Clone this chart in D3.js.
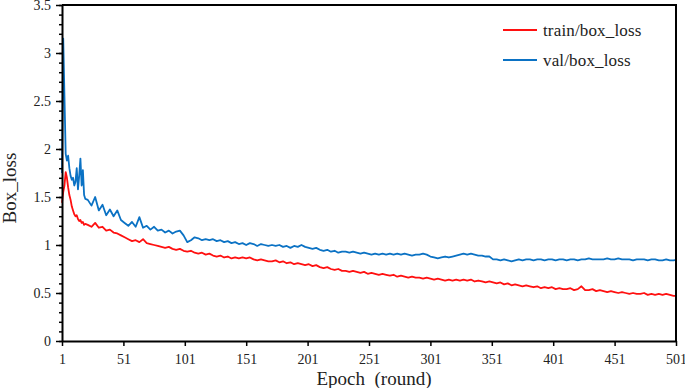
<!DOCTYPE html>
<html>
<head>
<meta charset="utf-8">
<script src="https://cdn.jsdelivr.net/npm/d3@7"></script>
<style>
    body { margin: 0; background: #fff; }
    svg text { font-family: "Liberation Serif", "Times New Roman", Times, "DejaVu Serif", serif; }
</style>
</head>
<body>
<script>
// epochs: every epoch at the start, then every third one
const epochs = d3.range(1, 21).concat(d3.range(22, 500, 3), [501]);

const trainLoss = [
    1.44, 1.55, 1.62, 1.76, 1.70, 1.60, 1.52, 1.47, 1.40, 1.36,
    1.32, 1.30, 1.31, 1.27, 1.25, 1.26, 1.23, 1.24, 1.21, 1.22,
    1.21, 1.19, 1.23, 1.18, 1.19, 1.15, 1.16, 1.13, 1.12, 1.10,
    1.08, 1.06, 1.04, 1.05, 1.03, 1.06, 1.02, 1.01, 1.00, 0.99,
    0.98, 0.97, 0.98, 0.96, 0.95, 0.96, 0.94, 0.93, 0.94, 0.92,
    0.91, 0.92, 0.90, 0.91, 0.89, 0.88, 0.89, 0.87, 0.88, 0.86,
    0.87, 0.86, 0.87, 0.86, 0.87, 0.85, 0.84, 0.85, 0.84, 0.83,
    0.83, 0.84, 0.82, 0.83, 0.81, 0.82, 0.80, 0.81, 0.80, 0.79,
    0.80, 0.78, 0.79, 0.77, 0.76, 0.77, 0.75, 0.74, 0.75, 0.73,
    0.73, 0.72, 0.73, 0.72, 0.71, 0.72, 0.70, 0.71, 0.70, 0.69,
    0.70, 0.69, 0.68, 0.69, 0.67, 0.68, 0.67, 0.66, 0.67, 0.66,
    0.66, 0.65, 0.66, 0.65, 0.64, 0.65, 0.64, 0.63, 0.64, 0.63,
    0.64, 0.63, 0.64, 0.63, 0.64, 0.62, 0.63, 0.62, 0.61, 0.62,
    0.61, 0.60, 0.61, 0.59, 0.60, 0.58, 0.59, 0.58, 0.57, 0.58,
    0.57, 0.56, 0.57, 0.55, 0.56, 0.55, 0.56, 0.54, 0.55, 0.54,
    0.54, 0.55, 0.53, 0.54, 0.57, 0.53, 0.53, 0.54, 0.52, 0.53,
    0.52, 0.51, 0.52, 0.51, 0.50, 0.51, 0.50, 0.49, 0.50, 0.49,
    0.49, 0.50, 0.48, 0.49, 0.48, 0.49, 0.48, 0.49, 0.48, 0.47,
    0.47
];

const valLoss = [
    1.75, 3.15, 2.55, 1.95, 1.88, 1.93, 1.80, 1.72, 1.68, 1.70,
    1.62, 1.66, 1.80, 1.58, 1.72, 1.90, 1.62, 1.78, 1.52, 1.48,
    1.47, 1.41, 1.50, 1.36, 1.42, 1.31, 1.37, 1.30, 1.36, 1.26,
    1.23, 1.20, 1.24, 1.19, 1.29, 1.18, 1.20, 1.16, 1.19, 1.15,
    1.16, 1.13, 1.15, 1.12, 1.14, 1.15, 1.10, 1.03, 1.05, 1.08,
    1.07, 1.05, 1.06, 1.05, 1.06, 1.04, 1.05, 1.03, 1.04, 1.02,
    1.03, 1.01, 1.02, 1.00, 1.02, 1.01, 0.99, 1.01, 1.00, 0.99,
    1.00, 0.99, 1.00, 0.98, 0.99, 0.97, 0.99, 0.98, 1.00, 0.98,
    0.97, 0.96, 0.97, 0.95, 0.94, 0.95, 0.93, 0.94, 0.92, 0.93,
    0.93, 0.92, 0.93, 0.92, 0.91, 0.92, 0.91, 0.90, 0.91, 0.90,
    0.91, 0.90, 0.91, 0.90, 0.91, 0.90, 0.91, 0.90, 0.89, 0.90,
    0.90, 0.91, 0.90, 0.88, 0.87, 0.86, 0.87, 0.88, 0.87, 0.88,
    0.89, 0.90, 0.91, 0.90, 0.91, 0.90, 0.89, 0.89, 0.88, 0.88,
    0.85, 0.85, 0.84, 0.85, 0.84, 0.83, 0.84, 0.85, 0.84, 0.85,
    0.85, 0.84, 0.85, 0.85, 0.84, 0.85, 0.85, 0.84, 0.85, 0.85,
    0.84, 0.85, 0.85, 0.84, 0.85, 0.85, 0.86, 0.85, 0.85, 0.85,
    0.85, 0.86, 0.85, 0.85, 0.86, 0.85, 0.85, 0.85, 0.84, 0.85,
    0.85, 0.85, 0.84, 0.85, 0.85, 0.84, 0.84, 0.85, 0.84, 0.84,
    0.845
];

const xTicks = [1, 51, 101, 151, 201, 251, 301, 351, 401, 451, 501];
const yTicks = [0, 0.5, 1, 1.5, 2, 2.5, 3, 3.5];

const series = [
    { name: 'train/box_loss', values: trainLoss, color: '#ff1010' },
    { name: 'val/box_loss', values: valLoss, color: '#0b72c4' }
];

drawChart();

function drawChart()
{
    const width = 685;
    const height = 388;

    const marginTop = 5;
    const marginRight = 9;
    const marginBottom = 47;
    const marginLeft = 62;

    const svg = d3.select('body').append('svg')
        .attr('width', width)
        .attr('height', height);

    const x = d3.scaleLinear()
        .domain([1, 501])
        .range([marginLeft, width - marginRight]);

    const y = d3.scaleLinear()
        .domain([0, 3.5])
        .range([height - marginBottom, marginTop]);

    // lines
    const line = d3.line()
        .x((d, i) => x(epochs[i]))
        .y(d => y(d));

    svg.selectAll('path.series')
        .data(series)
        .enter()
        .append('path')
        .attr('class', 'series')
        .attr('d', d => line(d.values))
        .attr('fill', 'none')
        .attr('stroke', d => d.color)
        .attr('stroke-width', 1.8)
        .attr('stroke-linejoin', 'round');

    // frame on top and right
    svg.append('path')
        .attr('d', `M${x(1)},${y(3.5)}H${x(501)}V${y(0)}`)
        .attr('fill', 'none')
        .attr('stroke', '#000')
        .attr('stroke-width', 2);

    // minor y ticks
    svg.append('g')
        .attr('transform', `translate(${marginLeft}, 0)`)
        .call(d3.axisLeft(y).tickValues(d3.range(0, 36).map(i => i / 10)).tickSize(3).tickFormat(''))
        .call(g => g.select('.domain').remove())
        .call(g => g.selectAll('line').attr('stroke-width', 1.5));

    // y-axis
    svg.append('g')
        .attr('id', 'y-axis')
        .attr('transform', `translate(${marginLeft}, 0)`)
        .call(d3.axisLeft(y).tickValues(yTicks).tickSize(6).tickSizeOuter(0).tickPadding(5).tickFormat(d3.format('')))
        .call(g => g.attr('font-family', null))
        .call(g => g.select('.domain').attr('stroke-width', 2))
        .call(g => g.selectAll('line').attr('stroke-width', 1.5))
        .call(g => g.selectAll('text').attr('font-size', 14).attr('fill', '#222'));

    // x-axis
    svg.append('g')
        .attr('id', 'x-axis')
        .attr('transform', `translate(0, ${height - marginBottom})`)
        .call(d3.axisBottom(x).tickValues(xTicks).tickSize(5).tickSizeOuter(0).tickPadding(8))
        .call(g => g.attr('font-family', null))
        .call(g => g.select('.domain').attr('stroke-width', 2))
        .call(g => g.selectAll('line').attr('stroke-width', 1.5))
        .call(g => g.selectAll('text').attr('font-size', 14).attr('fill', '#222'));

    // axis titles
    svg.append('text')
        .attr('x', 374)
        .attr('y', 385)
        .attr('text-anchor', 'middle')
        .attr('font-size', 19)
        .attr('fill', '#222')
        .style('white-space', 'pre')
        .text('Epoch  (round)');

    svg.append('text')
        .attr('transform', 'translate(16, 188) rotate(-90)')
        .attr('text-anchor', 'middle')
        .attr('font-size', 19)
        .attr('fill', '#222')
        .text('Box_loss');

    // legend
    const legend = svg.selectAll('g.legend')
        .data(series)
        .enter()
        .append('g')
        .attr('class', 'legend')
        .attr('transform', (d, i) => `translate(503, ${30 + i * 30})`);

    legend.append('line')
        .attr('x1', 0)
        .attr('x2', 34)
        .attr('stroke', d => d.color)
        .attr('stroke-width', 2);

    legend.append('text')
        .attr('x', 40)
        .attr('y', 5.5)
        .attr('font-size', 17)
        .attr('letter-spacing', 0.15)
        .attr('fill', '#222')
        .text(d => d.name);
}
</script>
</body>
</html>
